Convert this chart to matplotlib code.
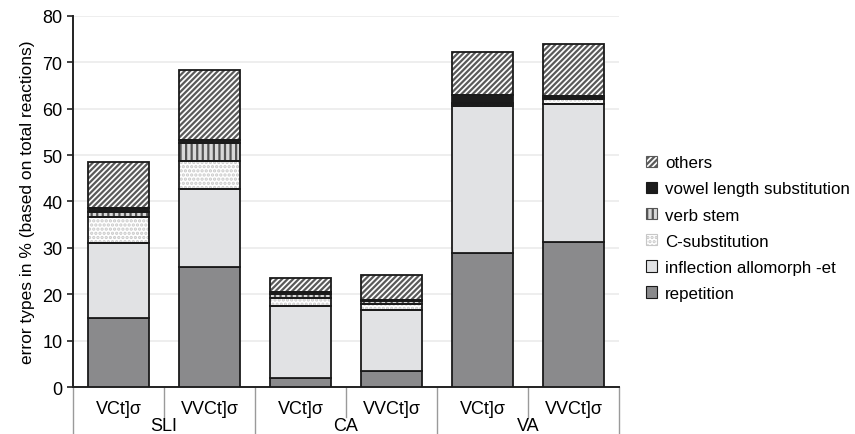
import numpy as np
import matplotlib.pyplot as plt
from matplotlib.patches import Patch

plt.rcParams['font.family'] = ['Liberation Sans', 'DejaVu Sans']
plt.rcParams['hatch.linewidth'] = 1.6

groups = ['SLI', 'CA', 'VA']
sub_labels = ['VCt]σ', 'VVCt]σ', 'VCt]σ', 'VVCt]σ', 'VCt]σ', 'VVCt]σ']

# stacked values per bar (bottom to top)
repetition = [14.8, 25.8, 2.0, 3.4, 29.0, 31.2]
inflection = [16.3, 16.8, 15.5, 13.3, 31.6, 29.8]
c_subst = [5.5, 6.1, 1.8, 1.1, 0.4, 1.0]
verb_stem = [1.2, 3.9, 0.7, 0.8, 0.3, 0.4]
vowel_length = [0.9, 0.7, 0.5, 0.2, 1.7, 0.4]
others = [9.8, 15.1, 2.9, 5.4, 9.3, 11.2]

series = [
    ('repetition', repetition, '#8a8a8c', None, None),
    ('inflection allomorph -et', inflection, '#e1e2e4', None, None),
    ('C-substitution', c_subst, 'white', '....', '#c8c8c8'),
    ('verb stem', verb_stem, '#d8d8d8', '|||', '#555555'),
    ('vowel length substitution', vowel_length, '#1c1c1c', None, None),
    ('others', others, 'white', '//////', '#5a5a5a'),
]

fig = plt.figure(figsize=(8.55, 4.35), dpi=100)
ax = fig.add_axes([0.0854, 0.108, 0.6386, 0.853])

x = np.arange(len(sub_labels))
width = 0.66
bottom = np.zeros(len(x))
handles = []
for name, vals, fc, hatch, hc in series:
    vals = np.array(vals)
    if hatch:
        ax.bar(x, vals, width, bottom=bottom, color=fc, edgecolor=hc,
               hatch=hatch, linewidth=0, zorder=2)
        ax.bar(x, vals, width, bottom=bottom, fill=False, edgecolor='#1a1a1a',
               linewidth=1.3, zorder=3)
    else:
        ax.bar(x, vals, width, bottom=bottom, color=fc, edgecolor='#1a1a1a',
               linewidth=1.3, zorder=3)
    handles.append(Patch(facecolor=fc, edgecolor=hc if hatch else '#1a1a1a',
                         hatch=hatch, linewidth=0.8, label=name))
    bottom += vals

ax.set_xlim(-0.5, 5.5)
ax.set_ylim(0, 80)
ax.set_yticks(range(0, 81, 10))
ax.tick_params(axis='y', labelsize=13, length=4, width=1.2, color='#222222')
ax.tick_params(axis='x', length=0, labelbottom=False)
ax.yaxis.grid(True, color='#ebebeb', linewidth=1.2, zorder=0)
ax.set_axisbelow(True)
for s in ['top', 'right']:
    ax.spines[s].set_visible(False)
ax.spines['left'].set_linewidth(1.4)
ax.spines['bottom'].set_linewidth(1.4)
ax.spines['left'].set_color('#222222')
ax.spines['bottom'].set_color('#222222')
ax.set_ylabel('error types in % (based on total reactions)', fontsize=12.5, labelpad=5)

# category axis labels and separators
trans = ax.get_xaxis_transform()
for i, lab in enumerate(sub_labels):
    ax.text(i, -0.035, lab, transform=trans, ha='center', va='top', fontsize=13)
for j, g in enumerate(groups):
    ax.text(2 * j + 0.5, -0.082, g, transform=trans, ha='center', va='top', fontsize=13)
for k in range(7):
    xpos = k - 0.5
    y_end = -0.127 if k % 2 == 0 else -0.08
    ax.plot([xpos, xpos], [0, y_end], transform=trans, color='#9a9a9a',
            linewidth=1.0, clip_on=False)

leg = fig.legend(handles=handles[::-1], loc='upper left',
                 bbox_to_anchor=(0.738, 0.676), frameon=False, fontsize=12.2,
                 handlelength=0.65, handleheight=0.65, handletextpad=0.45,
                 labelspacing=0.66)

fig.savefig('out.png', dpi=100)
